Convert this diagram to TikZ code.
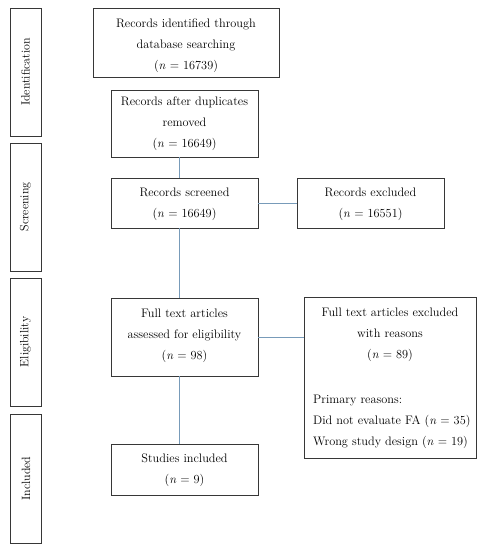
\documentclass[tikz,border=0pt]{standalone}
\usetikzlibrary{calc}
\definecolor{boxc}{RGB}{55,55,55}
\definecolor{linkc}{RGB}{120,155,185}
\begin{document}
\begin{tikzpicture}[x=1pt,y=-1pt,
  box/.style={draw=boxc,line width=0.9pt,inner sep=0pt,align=center},
  side/.style={draw=boxc,line width=0.9pt,inner sep=0pt,minimum width=31,minimum height=128},
  sidetext/.style={rotate=90,font=\fontsize{12}{14}\selectfont},
  link/.style={draw=linkc,line width=0.8pt},
  txt/.style={inner sep=0pt,font=\fontsize{12.3}{21}\selectfont}]
\useasboundingbox (0,0) rectangle (479,550);
\fill[white] (0,0) rectangle (479,550);
% side labels
\node[side] (s1) at (25.5,72) {};
\node[sidetext] (s1t) at (s1) {Identification};
\node[side] (s2) at (25.5,207) {};
\node[sidetext] (s2t) at (s2) {Screening};
\node[side] (s3) at (25.5,342) {};
\node[sidetext] (s3t) at (s3) {Eligibility};
\node[side,minimum height=129] (s4) at (26,478.5) {};
\node[sidetext] (s4t) at (s4) {Included};
% main boxes
\node[box,minimum width=186,minimum height=69] (b1) at (186,42.5) {};
\node[txt,align=center] (b1t) at (186,46) {Records identified through\\database searching\\(\textit{n} = 16739)};
\node[box,minimum width=147,minimum height=67] (b2) at (184.5,123.5) {};
\node[txt,align=center] (b2t) at (184.5,124) {Records after duplicates\\removed\\(\textit{n} = 16649)};
\node[box,minimum width=147,minimum height=50] (b3) at (184.5,203) {};
\node[txt,align=center] (b3t) at (184.5,204) {Records screened\\(\textit{n} = 16649)};
\node[box,minimum width=147,minimum height=50] (ex) at (370.5,203) {};
\node[txt,align=center] (ext) at (370.5,204) {Records excluded\\(\textit{n} = 16551)};
\node[box,minimum width=147,minimum height=78] (b4) at (184.5,337) {};
\node[txt,align=center] (b4t) at (184.5,336) {Full text articles\\assessed for eligibility\\(\textit{n} = 98)};
\node[box,minimum width=172,minimum height=161] (b5) at (390,377.5) {};
\node[txt,align=center] (b5t) at (390,335) {Full text articles excluded\\with reasons\\(\textit{n} = 89)};
\node[txt,align=left,anchor=west] (b5l) at (313,422) {Primary reasons:\\Did not evaluate FA (\textit{n} = 35)\\Wrong study design (\textit{n} = 19)};
\node[box,minimum width=147,minimum height=51] (b6) at (184.5,469.5) {};
\node[txt,align=center] (b6t) at (184.5,470) {Studies included\\(\textit{n} = 9)};
% connectors
\coordinate (cx) at (179,0);
\draw[link] (b2.south -| cx) -- (b3.north -| cx);
\draw[link] (b3.south -| cx) -- (b4.north -| cx);
\draw[link] (b4.south -| cx) -- (b6.north -| cx);
\draw[link] (b3.east) -- (ex.west);
\draw[link] (b4.east) -- (b4.east -| b5.west);
\end{tikzpicture}
\end{document}
